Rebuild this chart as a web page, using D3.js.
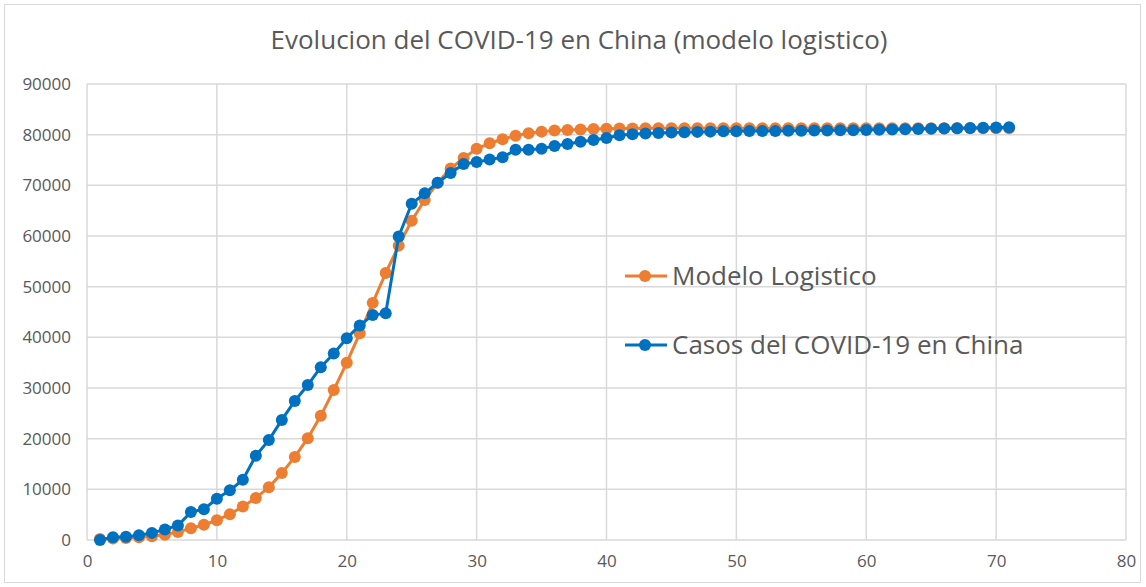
<!DOCTYPE html>
<html>
<head>
<meta charset="utf-8">
<script src="https://cdn.jsdelivr.net/npm/d3@7"></script>
<style>
  body { margin: 0; background: #fff; }
  text { font-family: "Open Sans", sans-serif; fill: #595959; }
</style>
</head>
<body>
<div id="chart-area"></div>
<script>
// day index
const days = d3.range(1, 72)

// logistic model (orange)
const modelo = [200, 300, 400, 550, 750, 1050, 1600, 2300, 3000, 3900,
  5100, 6600, 8300, 10400, 13200, 16400, 20100, 24500, 29600, 35000,
  40800, 46800, 52700, 58100, 63000, 67100, 70500, 73300, 75400, 77200,
  78300, 79100, 79800, 80300, 80600, 80800, 80900, 81000, 81100, 81150,
  81200, 81200, 81250, 81250, 81250, 81250, 81250, 81250, 81250, 81250,
  81250, 81250, 81250, 81250, 81250, 81250, 81250, 81250, 81250, 81250,
  81250, 81250, 81250, 81250, 81250, 81250, 81250, 81250, 81250, 81250, 81250]

// confirmed cases (blue)
const casos = [0, 548, 643, 920, 1406, 2075, 2877, 5509, 6087, 8141,
  9802, 11891, 16630, 19716, 23707, 27440, 30587, 34110, 36814, 39829,
  42354, 44386, 44759, 59895, 66358, 68413, 70513, 72434, 74211, 74619,
  75077, 75550, 77001, 77022, 77241, 77754, 78166, 78600, 78928, 79356,
  79900, 80100, 80250, 80350, 80450, 80500, 80550, 80600, 80650, 80650,
  80700, 80700, 80700, 80750, 80750, 80800, 80800, 80850, 80850, 80900,
  80950, 81000, 81050, 81100, 81150, 81200, 81250, 81300, 81350, 81400, 81450]

const xTicks = [0, 10, 20, 30, 40, 50, 60, 70, 80]
const yTicks = [0, 10000, 20000, 30000, 40000, 50000, 60000, 70000, 80000, 90000]

const series = [
  { name: "Modelo Logistico", color: "#ED7D31", values: modelo },
  { name: "Casos del COVID-19 en China", color: "#0070C0", values: casos }
]

const W = 1146, H = 587
const MARGIN = { LEFT: 87, RIGHT: 20, TOP: 84, BOTTOM: 47 }

const svg = d3.select("#chart-area").append("svg")
  .attr("width", W)
  .attr("height", H)

// outer chart border
svg.append("rect")
  .attr("x", 4.5).attr("y", 4.5)
  .attr("width", 1136).attr("height", 578)
  .attr("fill", "#fff")
  .attr("stroke", "#d9d9d9")
  .attr("stroke-width", 1)

const x = d3.scaleLinear().domain([0, 80]).range([MARGIN.LEFT, W - MARGIN.RIGHT])
const y = d3.scaleLinear().domain([0, 90000]).range([H - MARGIN.BOTTOM, MARGIN.TOP])

// gridlines
svg.append("g")
  .selectAll("line.v").data(xTicks).enter().append("line")
  .attr("x1", d => x(d)).attr("x2", d => x(d))
  .attr("y1", y(90000)).attr("y2", y(0))
  .attr("stroke", "#d9d9d9").attr("stroke-width", 1.5)

svg.append("g")
  .selectAll("line.h").data(yTicks).enter().append("line")
  .attr("x1", x(0)).attr("x2", x(80))
  .attr("y1", d => y(d)).attr("y2", d => y(d))
  .attr("stroke", "#d9d9d9").attr("stroke-width", 1.5)

// axes (labels only)
const xAxis = svg.append("g")
  .attr("transform", `translate(0, ${y(0)})`)
  .call(d3.axisBottom(x).tickValues(xTicks).tickSize(0).tickPadding(15))
xAxis.select(".domain").remove()
xAxis.selectAll("text")
  .attr("font-size", "17px")
  .attr("font-family", "Open Sans")
  .attr("fill", "#595959")

const yAxis = svg.append("g")
  .attr("transform", `translate(${x(0)}, 0)`)
  .call(d3.axisLeft(y).tickValues(yTicks).tickSize(0).tickPadding(16).tickFormat(d3.format("d")))
yAxis.select(".domain").remove()
yAxis.selectAll("text")
  .attr("font-size", "17px")
  .attr("font-family", "Open Sans")
  .attr("fill", "#595959")

// lines + markers
const line = d3.line()
  .x((d, i) => x(days[i]))
  .y(d => y(d))

series.forEach(function(s) {
  svg.append("path")
    .datum(s.values)
    .attr("d", line)
    .attr("fill", "none")
    .attr("stroke", s.color)
    .attr("stroke-width", 3)
    .attr("stroke-linejoin", "round")

  svg.append("g")
    .selectAll("circle").data(s.values).enter().append("circle")
    .attr("cx", (d, i) => x(days[i]))
    .attr("cy", d => y(d))
    .attr("r", 6)
    .attr("fill", s.color)
})

// title
svg.append("text")
  .attr("x", 579)
  .attr("y", 49)
  .attr("text-anchor", "middle")
  .attr("font-size", "26px")
  .text("Evolucion del COVID-19 en China (modelo logistico)")

// legend
const legend = svg.append("g")
series.forEach(function(s, i) {
  const ly = 276 + i * 69
  legend.append("line")
    .attr("x1", 625).attr("x2", 667)
    .attr("y1", ly).attr("y2", ly)
    .attr("stroke", s.color).attr("stroke-width", 3)
  legend.append("circle")
    .attr("cx", 645).attr("cy", ly).attr("r", 6)
    .attr("fill", s.color)
  legend.append("text")
    .attr("x", 672).attr("y", ly + 9)
    .attr("font-size", "26px")
    .text(s.name)
})
</script>
</body>
</html>
